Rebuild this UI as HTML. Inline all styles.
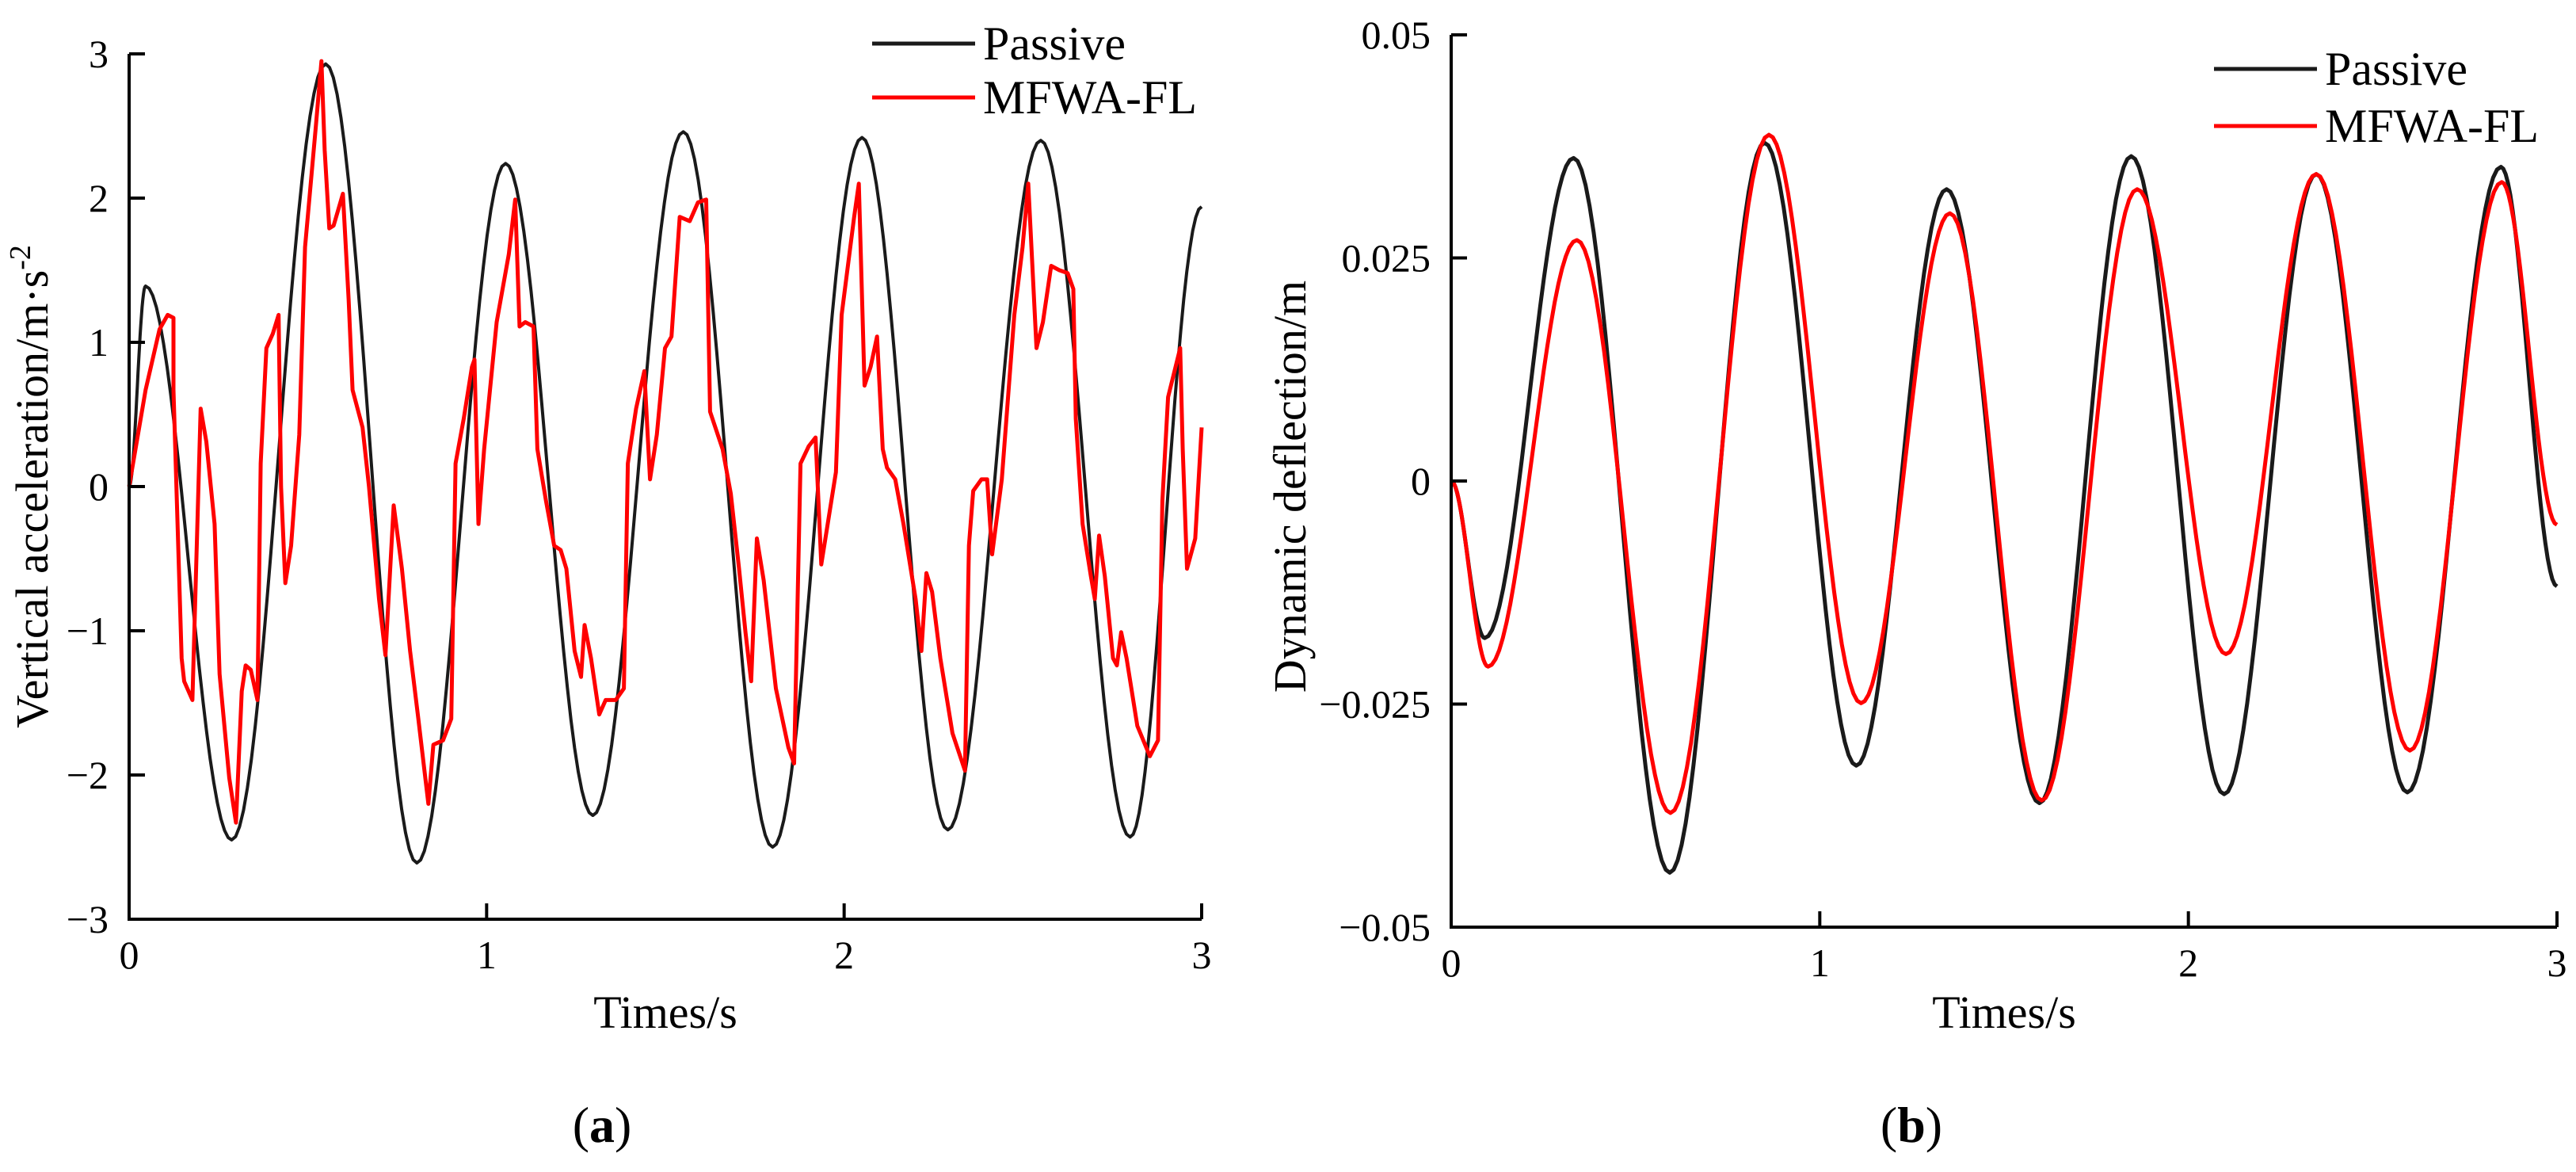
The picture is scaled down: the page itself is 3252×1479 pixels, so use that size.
<!DOCTYPE html>
<html><head><meta charset="utf-8"><style>
html,body{margin:0;padding:0;background:#fff}
svg{display:block;font-family:"Liberation Serif",serif}
</style></head><body>
<svg id="fig" width="3252" height="1479" viewBox="0 0 3252 1479" xmlns="http://www.w3.org/2000/svg">
<g id="pa"></g>
<g id="pb"></g>
<text x="760" y="1441" font-size="64" text-anchor="middle">(<tspan font-weight="bold">a</tspan>)</text>
<text x="2413" y="1441" font-size="64" text-anchor="middle">(<tspan font-weight="bold">b</tspan>)</text>
</svg>
<script>
// ---- Chart A data ----
const aXTicks = [0, 1, 2, 3];
const aYTicks = [3, 2, 1, 0, -1, -2, -3];
const aYTickLabels = ["3", "2", "1", "0", "\u22121", "\u22122", "\u22123"];
const aPassiveT = [0, 0.046, 0.287, 0.55, 0.805, 1.053, 1.297, 1.55, 1.80, 2.05, 2.29, 2.55, 2.80, 3.0];
const aPassiveV = [0, 1.39, -2.45, 2.93, -2.61, 2.24, -2.28, 2.46, -2.50, 2.42, -2.38, 2.40, -2.43, 1.94];
const aMfwaT = [0,.046,.085,.108,.124,.124,.147,.154,.177,.2,.216,.239,.253,.28,.299,.315,.326,.34,.359,.368,.384,.402,.418,.425,.437,.453,.476,.492,.522,.538,.547,.56,.572,.598,.614,.625,.653,.671,.699,.717,.74,.763,.786,.809,.837,.851,.878,.901,.913,.936,.959,.966,.977,.993,1.028,1.062,1.08,1.092,1.108,1.131,1.142,1.166,1.189,1.207,1.223,1.246,1.264,1.274,1.292,1.315,1.333,1.361,1.384,1.395,1.418,1.441,1.457,1.476,1.499,1.517,1.54,1.568,1.591,1.614,1.625,1.66,1.683,1.706,1.724,1.74,1.756,1.775,1.809,1.844,1.86,1.878,1.901,1.92,1.936,1.954,1.977,1.993,2.028,2.041,2.057,2.074,2.092,2.108,2.12,2.143,2.166,2.2,2.216,2.23,2.246,2.269,2.303,2.338,2.349,2.361,2.384,2.4,2.414,2.441,2.476,2.499,2.515,2.538,2.556,2.579,2.602,2.625,2.641,2.648,2.667,2.69,2.701,2.713,2.729,2.752,2.763,2.775,2.79,2.82,2.855,2.878,2.89,2.906,2.94,2.947,2.959,2.982,3.0];
const aMfwaV = [0,.67,1.09,1.19,1.17,.67,-1.19,-1.35,-1.48,.54,.31,-.26,-1.30,-2.02,-2.33,-1.42,-1.24,-1.27,-1.48,.16,.96,1.06,1.19,0,-.67,-.41,.36,1.66,2.49,2.95,2.33,1.79,1.81,2.03,1.30,.67,.41,0,-.78,-1.17,-.13,-.57,-1.14,-1.61,-2.20,-1.79,-1.76,-1.61,.16,.47,.83,.88,-.26,.26,1.14,1.61,1.99,1.11,1.14,1.11,.26,-.10,-.41,-.44,-.57,-1.14,-1.32,-.96,-1.19,-1.58,-1.48,-1.48,-1.40,.16,.54,.80,.05,.36,.96,1.04,1.87,1.84,1.97,1.99,.52,.26,-.05,-.57,-1.01,-1.35,-.36,-.65,-1.40,-1.81,-1.92,.16,.28,.34,-.54,-.26,.10,1.19,1.87,2.10,.70,.83,1.04,.26,.13,.05,-.26,-.78,-1.14,-.60,-.73,-1.19,-1.71,-1.97,-.41,-.03,.05,.05,-.47,.05,1.19,1.66,2.10,.96,1.14,1.53,1.50,1.48,1.37,.47,-.26,-.62,-.78,-.34,-.62,-1.19,-1.24,-1.01,-1.19,-1.66,-1.87,-1.76,-.10,.62,.96,.26,-.57,-.36,.41];
// ---- Chart B data ----
const bXTicks = [0, 1, 2, 3];
const bYTicks = [0.05, 0.025, 0, -0.025, -0.05];
const bYTickLabels = ["0.05", "0.025", "0", "\u22120.025", "\u22120.05"];
const bPassiveT = [0, .091, .332, .593, .85, 1.099, 1.344, 1.596, 1.845, 2.097, 2.347, 2.594, 2.848, 3.0];
const bPassiveV = [0, -.0176, .0362, -.0439, .0379, -.0319, .0327, -.0361, .0364, -.0351, .0344, -.0349, .0352, -.0118];
const bMfwaT = [0, .1, .341, .595, .862, 1.112, 1.353, 1.602, 1.861, 2.102, 2.347, 2.601, 2.85, 3.0];
const bMfwaV = [0, -.0208, .027, -.0372, .0388, -.0249, .030, -.0358, .0327, -.0194, .0344, -.0302, .0335, -.0049];

const NS = "http://www.w3.org/2000/svg";
function mk(tag, attrs, parent) {
  const e = document.createElementNS(NS, tag);
  for (const k in attrs) e.setAttribute(k, attrs[k]);
  parent.appendChild(e);
  return e;
}
function linPath(T, V, sx, sy) {
  return T.map((t, i) => (i ? "L" : "M") + sx(t).toFixed(1) + "," + sy(V[i]).toFixed(1)).join("");
}
function smoothPath(T, V, sx, sy) {
  let d = "M" + sx(T[0]).toFixed(1) + "," + sy(V[0]).toFixed(1);
  for (let i = 1; i < T.length; i++) {
    const t0 = T[i-1], t1 = T[i], v0 = V[i-1], v1 = V[i];
    const n = 24;
    for (let k = 1; k <= n; k++) {
      const f = k / n, w = (1 - Math.cos(Math.PI * f)) / 2;
      d += "L" + sx(t0 + (t1 - t0) * f).toFixed(1) + "," + sy(v0 + (v1 - v0) * w).toFixed(1);
    }
  }
  return d;
}
function chart(g, o) {
  const sx = t => o.x0 + (t - o.xmin) / (o.xmax - o.xmin) * (o.x1 - o.x0);
  const sy = v => o.y1 - (v - o.ymin) / (o.ymax - o.ymin) * (o.y1 - o.y0);
  // series
  const p1 = mk("path", {d: smoothPath(o.pT, o.pV, sx, sy), fill: "none", stroke: "#1a1a1a", "stroke-width": o.pw, "stroke-linejoin": "round"}, g);
  
  
  const p2 = mk("path", {d: (o.mSmooth ? smoothPath : linPath)(o.mT, o.mV, sx, sy), fill: "none", stroke: "#ff0000", "stroke-width": o.mw, "stroke-linejoin": "round"}, g);
  
  
  // axes
  const ax = mk("path", {d: `M${o.x0},${o.y0}L${o.x0},${o.y1}L${o.x1},${o.y1}`, fill: "none", stroke: "#000", "stroke-width": 4}, g);
  
  
  o.yt.forEach((v, i) => {
    const y = sy(v);
    const tk = mk("line", {x1: o.x0, x2: o.x0 + 20, y1: y, y2: y, stroke: "#000", "stroke-width": 4}, g);
    
    
    const tl = mk("text", {x: o.x0 - 26, y: y + 17, "font-size": 50, "text-anchor": "end"}, g);
    tl.textContent = o.ytl[i];
    
    
  });
  o.xt.forEach(v => {
    const x = sx(v);
    const tk = mk("line", {x1: x, x2: x, y1: o.y1, y2: o.y1 - 20, stroke: "#000", "stroke-width": 4}, g);
    
    
    const tl = mk("text", {x: x, y: o.y1 + 62, "font-size": 50, "text-anchor": "middle"}, g);
    tl.textContent = String(v);
    
    
  });
  const xt = mk("text", {x: (o.x0 + o.x1) / 2 + o.xtOff, y: 1297, "font-size": 58, "text-anchor": "middle"}, g);
  xt.textContent = "Times/s";
  
  
  const yt = mk("text", {transform: `translate(${o.ytx},${o.yty}) rotate(-90)`, "font-size": 58, "text-anchor": "middle"}, g);
  yt.innerHTML = o.ytitle;
  
  
  // legend
  [["Passive", "#1a1a1a", o.ly0], ["MFWA-FL", "#ff0000", o.ly0 + o.lgap]].forEach(([lab, col, y]) => {
    const ln = mk("line", {x1: o.lx, x2: o.lx + 130, y1: y, y2: y, stroke: col, "stroke-width": 5}, g);
    
    
    const lt = mk("text", {x: o.lx + 140, y: y + 20, "font-size": 60}, g);
    lt.textContent = lab;
    
    
  });
}
chart(document.getElementById("pa"), {
  x0: 163, x1: 1517, y0: 68, y1: 1160, xmin: 0, xmax: 3, ymin: -3, ymax: 3,
  pT: aPassiveT, pV: aPassiveV, mT: aMfwaT, mV: aMfwaV, mSmooth: false, pw: 4, mw: 5,
  xt: aXTicks, yt: aYTicks, ytl: aYTickLabels, xtOff: 0,
  ytx: 60, yty: 614, ytitle: 'Vertical acceleration/m·s<tspan dy="-22" font-size="38">-2</tspan>',
  lx: 1101, ly0: 55, lgap: 68
});
chart(document.getElementById("pb"), {
  x0: 1832, x1: 3228, y0: 44, y1: 1170, xmin: 0, xmax: 3, ymin: -0.05, ymax: 0.05,
  pT: bPassiveT, pV: bPassiveV, mT: bMfwaT, mV: bMfwaV, mSmooth: true, pw: 5, mw: 5,
  xt: bXTicks, yt: bYTicks, ytl: bYTickLabels, xtOff: 0,
  ytx: 1648, yty: 614, ytitle: 'Dynamic deflection/m',
  lx: 2795, ly0: 87, lgap: 72
});
</script>
</body></html>
